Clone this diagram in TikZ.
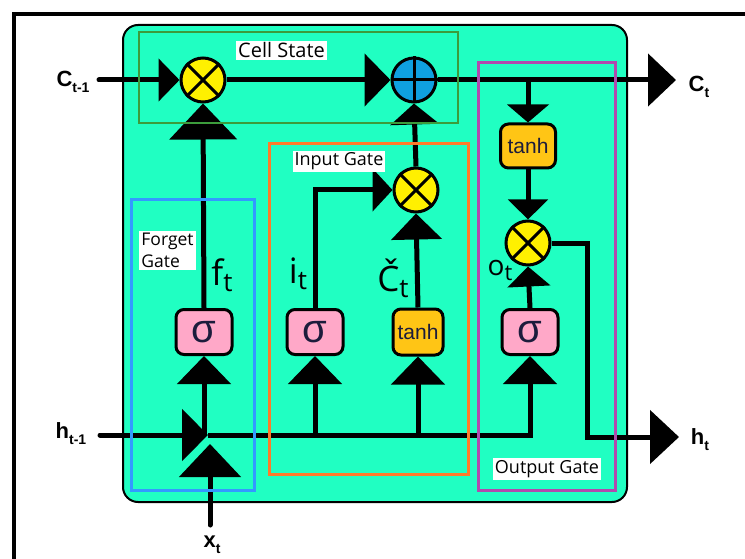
\documentclass[tikz,border=0pt]{standalone}
\usepackage{fontspec}
\setmainfont{Open Sans}
\newfontfamily\ars{Liberation Sans}
\usetikzlibrary{arrows.meta}
\definecolor{cellbg}{HTML}{20FFC2}
\definecolor{mulfill}{HTML}{FFF000}
\definecolor{addfill}{HTML}{0FA0E0}
\definecolor{sigfill}{HTML}{FFA8C8}
\definecolor{tanhfill}{HTML}{FFC515}
\definecolor{glyph}{HTML}{1C1C3C}
\definecolor{csgreen}{HTML}{3C9C3C}
\definecolor{fgblue}{HTML}{3399FF}
\definecolor{igorange}{HTML}{FF7A2A}
\definecolor{ogpurple}{HTML}{B04AAE}
\begin{document}
\begin{tikzpicture}[x=1pt,y=-1pt,
  wire/.style={line width=5pt},
  mulnode/.style={circle,draw,line width=3pt,fill=mulfill,minimum size=44pt,inner sep=0pt},
  addnode/.style={circle,draw,line width=3pt,fill=addfill,minimum size=44pt,inner sep=0pt},
  sigbox/.style={draw,line width=3pt,rounded corners=8pt,fill=sigfill,minimum width=56pt,minimum height=45pt,inner sep=0pt,text=glyph,font=\ars\fontsize{40}{40}\selectfont},
  tanhbox/.style={draw,line width=3pt,rounded corners=8pt,fill=tanhfill,inner sep=0pt,text=glyph,font=\ars\fontsize{21}{21}\selectfont},
  gatelbl/.style={fill=white,inner sep=2pt,text=black,font=\fontsize{18}{21}\selectfont},
  varlbl/.style={inner sep=0pt,text=black},
  iolbl/.style={inner sep=0pt,text=black,font=\ars\bfseries\fontsize{22}{24}\selectfont}]
\useasboundingbox (0,0) rectangle (745,559);
\fill[white] (0,0) rectangle (745,559);
% outer frame
\draw[line width=4.5pt] (14,560) -- (14,14) -- (746,14);
% cell body
\draw[line width=2pt,fill=cellbg,rounded corners=15pt] (123,25) rectangle (627,502);

% nodes
\node[mulnode] (m1) at (203,80) {};
\node[addnode] (add) at (414,80) {};
\node[mulnode] (m2) at (416,190) {};
\node[mulnode] (m3) at (528,243) {};
\node[sigbox] (fs) at (204,332) {σ};
\node[sigbox] (is) at (315,332) {σ};
\node[tanhbox,minimum width=50pt,minimum height=46pt] (it) at (418,332) {tanh};
\node[sigbox] (os) at (530,332) {σ};
\node[tanhbox,minimum width=55pt,minimum height=44pt] (ot) at (528,146) {tanh};

% symbols inside operators
\foreach \n in {m1,m2,m3}{
  \draw[line width=3pt] (\n.north west) -- (\n.south east);
  \draw[line width=3pt] (\n.north east) -- (\n.south west);
}
\draw[line width=3pt] (add.north) -- (add.south);
\draw[line width=3pt] (add.west) -- (add.east);

% free ends
\coordinate (cin) at (99,80);
\coordinate (cout) at (676,80);
\coordinate (hin) at (100,435);
\coordinate (hj) at (208,435);
\coordinate (xin) at (210,525);
\coordinate (xhalo) at (210,490);
\coordinate (xhalotip) at (210,441.5);
\coordinate (xj) at (210,444);
\coordinate (hcorner) at (587,437);
\coordinate (hout) at (679,437);

% cell state line
\draw[wire,line cap=round,-{Triangle[width=42pt,length=21pt]}] (cin) -- (m1.west);
\draw[wire,-{Triangle[width=52pt,length=26pt]}] (m1.east) -- (add.west);
\draw[wire,-{Triangle[width=52pt,length=28pt]}] (add.east) -- (cout);
\draw[wire,-{Triangle[width=41pt,length=18pt]}] (ot.north |- cin) -- (ot.north);
\draw[wire,-{Triangle[width=39pt,length=20pt]}] (ot.south) -- (m3.north);
\draw[wire,-{Triangle[width=42pt,length=20pt]}] (os.north) -- (m3.south);
\draw[wire,-{Triangle[width=67pt,length=36pt]}] (fs.north) -- (m1.south);
\draw[wire,-{Triangle[width=48pt,length=21pt]}] (m2.north) -- (add.south);
\draw[wire,-{Triangle[width=50pt,length=26pt]}] (it.north) -- (m2.south);
\draw[wire,-{Triangle[width=42pt,length=20pt]}] (is.north) |- (m2.west);

% hidden state / input
\draw[wire,line cap=round,-{Triangle[width=51pt,length=26pt]}] (hin) -- (hj);
\draw[wire,-{Triangle[width=53pt,length=28pt]}] (hj) -| (os.south);
\draw[wire,-{Triangle[width=53pt,length=28pt]}] (fs.south |- hin) -- (fs.south);
\draw[wire,-{Triangle[width=53pt,length=28pt]}] (is.south |- hin) -- (is.south);
\draw[wire,-{Triangle[width=53pt,length=28pt]}] (it.south |- hin) -- (it.south);
% thin background-coloured halo round the x_t arrowhead
\draw[wire,draw=cellbg,-{Triangle[width=67pt,length=37pt]}] (xhalo) -- (xhalotip);
\draw[wire,line cap=round,-{Triangle[width=61pt,length=33pt]}] (xin) -- (xj);
\draw[wire,-{Triangle[width=53pt,length=29pt]}] (m3.east) -| (hcorner) -- (hout);

% gate frames (drawn over the wires)
\draw[csgreen,line width=2.5pt] (139,32) rectangle (458,123);
\draw[fgblue,line width=3pt] (131,200) rectangle (254,490);
\draw[igorange,line width=3pt] (269,144) rectangle (468,474);
\draw[ogpurple,line width=3pt] (478,63) rectangle (615,490);

% gate labels
\node[gatelbl,font=\fontsize{20}{23}\selectfont] (cs) at (281.5,50.5) {Cell State};
\node[gatelbl] (ig) at (339,161.5) {Input Gate};
\node[gatelbl,align=left,font=\fontsize{17.5}{22}\selectfont] (fg) at (167.5,250.5) {Forget\\Gate};
\node[gatelbl] (og) at (547,469) {Output Gate};

% variable labels
\node[varlbl] (ft) at (222,275) {\fontsize{35}{36}\selectfont f\raisebox{-6pt}{\fontsize{26}{26}\selectfont t}};
\node[varlbl] (itl) at (298,274) {\fontsize{35}{36}\selectfont i\raisebox{-6pt}{\fontsize{26}{26}\selectfont t}};
\node[varlbl] (ctl) at (393,278) {\fontsize{35}{36}\selectfont Č\raisebox{-6pt}{\fontsize{26}{26}\selectfont t}};
\node[varlbl] (otl) at (500,270) {\fontsize{28}{29}\selectfont o\raisebox{-5pt}{\fontsize{22}{22}\selectfont t}};

% input / output labels
\node[iolbl] (lcin) at (73,82) {C\raisebox{-6pt}{\fontsize{14}{15}\selectfont t-1}};
\node[iolbl] (lhin) at (71,434) {h\raisebox{-6pt}{\fontsize{14}{15}\selectfont t-1}};
\node[iolbl] (lxt) at (212,545) {x\raisebox{-6pt}{\fontsize{14}{15}\selectfont t}};
\node[iolbl] (lct) at (699,87) {C\raisebox{-6pt}{\fontsize{14}{15}\selectfont t}};
\node[iolbl] (lht) at (700,440) {h\raisebox{-6pt}{\fontsize{14}{15}\selectfont t}};
\end{tikzpicture}
\end{document}
